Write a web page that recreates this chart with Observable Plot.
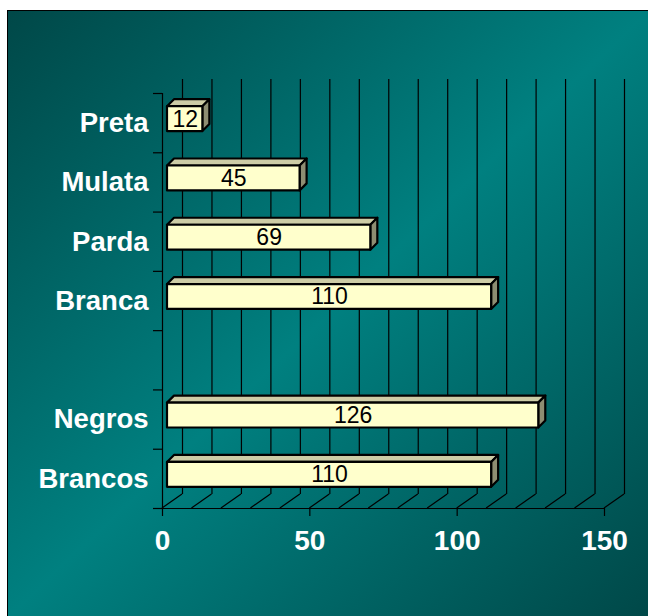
<!DOCTYPE html>
<html>
<head>
<meta charset="utf-8">
<script src="https://cdn.jsdelivr.net/npm/d3@7"></script>
<script src="https://cdn.jsdelivr.net/npm/@observablehq/plot@0.6"></script>
<style>
  html, body { margin: 0; padding: 0; background: #fff; }
  #stage { position: relative; width: 648px; height: 616px; overflow: hidden; }
  #panel {
    position: absolute; left: 7px; top: 10px; width: 641px; height: 606px;
    border-left: 1px solid #000; border-top: 1px solid #000;
    background: linear-gradient(to bottom right, #004848 0%, #008080 50%, #004848 100%);
  }
  #chart { position: absolute; left: 0; top: 0; }
</style>
</head>
<body>
<div id="stage"><div id="panel"></div><div id="chart"></div></div>
<script>
// Categories (top to bottom); the empty entry is the gap between the two groups
const categories = ["Preta", "Mulata", "Parda", "Branca", "", "Negros", "Brancos"];
const counts = [12, 45, 69, 110, null, 126, 110];
const xTicks = [0, 50, 100, 150];
const gridStep = 10;

const rows = categories.map((name, i) => ({name, i, value: counts[i]}));
const bars = rows.filter(d => d.value != null);
const gridValues = d3.range(0, 150 + gridStep, gridStep);

// 3D look: depth of the chart box, position of the bar plane, depth of each bar
const WALL = [20, -14];
const PLANE = [5, -4];
const BAR = [7, -7];
const FONT = "'Liberation Sans', Arial, Helvetica, sans-serif";

// Floor of the chart box: slanted lines running back from each gridline
function floor(index, {x, y}) {
  const g = d3.create("svg:g").attr("stroke", "#000").attr("stroke-width", 1.2);
  for (const v of gridValues) {
    g.append("line")
      .attr("x1", x(v)).attr("y1", y(categories.length))
      .attr("x2", x(v) + WALL[0]).attr("y2", y(categories.length) + WALL[1]);
  }
  return g.node();
}

// Bars drawn as boxes: front face, top face and right side face
function boxes(index, {x, y}) {
  const g = d3.create("svg:g")
    .attr("stroke", "#000").attr("stroke-width", 2.2).attr("stroke-linejoin", "round");
  for (const d of bars) {
    const xl = x(0) + PLANE[0], xr = x(d.value) + PLANE[0];
    const yt = y(d.i + 0.29) + PLANE[1], yb = y(d.i + 0.71) + PLANE[1];
    const [bx, by] = BAR;
    g.append("polygon")
      .attr("fill", "#cdcca6")
      .attr("points", [[xl, yt], [xr, yt], [xr + bx, yt + by], [xl + bx, yt + by]].join(" "));
    g.append("polygon")
      .attr("fill", "#8e8d72")
      .attr("points", [[xr, yt], [xr + bx, yt + by], [xr + bx, yb + by], [xr, yb]].join(" "));
    g.append("rect")
      .attr("fill", "#ffffcc")
      .attr("x", xl).attr("y", yt).attr("width", xr - xl).attr("height", yb - yt);
  }
  return g.node();
}

const chart = Plot.plot({
  width: 648,
  height: 616,
  marginLeft: 162,
  marginRight: 44,
  marginTop: 93,
  marginBottom: 108,
  style: {background: "transparent", fontFamily: FONT, overflow: "visible"},
  x: {domain: [0, 150], axis: null},
  y: {domain: [0, categories.length], range: [93, 508], axis: null},
  marks: [
    // back wall gridlines
    Plot.ruleX(gridValues, {x: d => d, y1: 0, y2: categories.length, dx: WALL[0], dy: WALL[1], stroke: "#000", strokeWidth: 1.2}),
    floor,
    // value axis: baseline, ticks, labels
    Plot.ruleY([categories.length], {stroke: "#000", strokeWidth: 1.2}),
    Plot.axisX({ticks: xTicks, tickSize: 8, tickFormat: () => "", stroke: "#000", strokeWidth: 1.2}),
    Plot.text(xTicks, {x: d => d, y: categories.length, dy: 33, text: d => String(d), fill: "#fff", fontSize: 28, fontWeight: "bold"}),
    // category axis: line, ticks at band edges, labels
    Plot.ruleX([0], {y1: 0, y2: categories.length, stroke: "#000", strokeWidth: 1.2}),
    Plot.axisY({ticks: d3.range(0, categories.length + 1), tickSize: 9, tickFormat: () => "", stroke: "#000", strokeWidth: 1.2}),
    Plot.text(rows.filter(d => d.name), {x: 0, y: d => d.i + 0.5, dx: -14, text: "name", textAnchor: "end", fill: "#fff", fontSize: 27.5, fontWeight: "bold"}),
    // bars and their value labels
    boxes,
    Plot.text(bars, {x: d => d.value / 2, y: d => d.i + 0.5, dx: PLANE[0], dy: PLANE[1], text: d => String(d.value), fill: "#000", fontSize: 23})
  ]
});

document.getElementById("chart").append(chart);
</script>
</body>
</html>
